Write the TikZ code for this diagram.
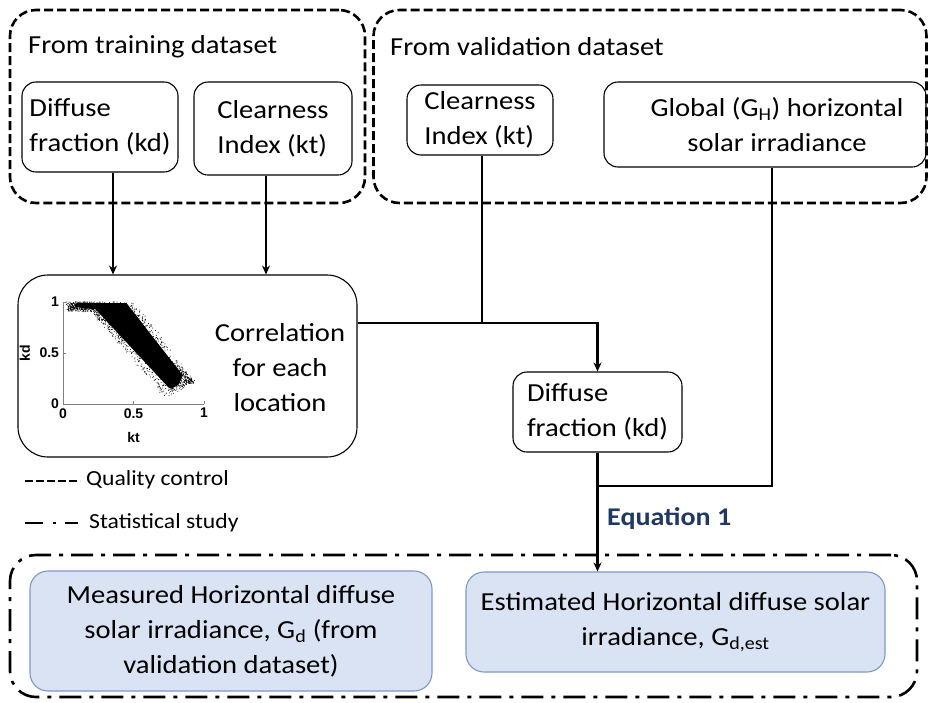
\documentclass[tikz,border=0pt]{standalone}
\usepackage{fontspec}
\setmainfont{Carlito}[FakeStretch=1.1]
\newfontfamily\plotfont{Liberation Sans}
\usetikzlibrary{arrows.meta}

\definecolor{boxfill}{HTML}{DAE3F3}
\definecolor{boxline}{HTML}{7F97C8}
\definecolor{eqblue}{HTML}{1F3864}

\begin{document}
\begin{tikzpicture}[x=1pt,y=-1pt,
  txt/.style={font=\fontsize{26}{35}\selectfont},
  inbox/.style={draw, rounded corners=14pt, line width=1.1pt, txt, inner sep=0pt},
  outbox/.style={draw=boxline, fill=boxfill, rounded corners=18pt, line width=1.1pt, txt, align=center, inner sep=0pt},
  grp/.style={draw, line width=2.6pt, rounded corners=26pt, dash pattern=on 9pt off 4pt, inner sep=0pt},
  statgrp/.style={draw, line width=2.6pt, rounded corners=26pt, dash pattern=on 22pt off 8pt on 4pt off 8pt, inner sep=0pt},
  link/.style={line width=2.6pt},
  arr/.style={link, -{Stealth[length=9pt,width=8pt]}},
  tick/.style={font=\plotfont\bfseries\fontsize{14}{14}\selectfont, inner sep=1pt}
]
\useasboundingbox (0,0) rectangle (929,702);

% Dataset groups
\node[grp, minimum width=355pt, minimum height=193pt] (train) at (187.5,106.5) {};
\node[grp, minimum width=553pt, minimum height=193pt] (valid) at (650,106.5) {};
\node[txt, anchor=west, inner sep=0pt] (traintitle) at (28,47) {From training dataset};
\node[txt, anchor=west, inner sep=0pt] (validtitle) at (390,47) {From validation dataset};

% Inputs
\node[inbox, align=left, minimum width=156pt, minimum height=90pt] (kdt) at (100,127) {Diffuse\\fraction (kd)};
\node[inbox, align=left, minimum width=158pt, minimum height=93pt] (ktt) at (273,128.5) {Clearness\\Index (kt)};
\node[inbox, align=left, minimum width=146pt, minimum height=70pt] (ktv) at (480,120) {Clearness\\Index (kt)};
\node[inbox, minimum width=322pt, minimum height=85pt] (glob) at (765,124.5) {};
\node[txt, align=center, inner sep=0pt] (globtxt) at (777,124.5) {Global (G\textsubscript{H}) horizontal\\solar irradiance};

% Correlation box with the kd-kt scatter
\node[inbox, rounded corners=30pt, minimum width=339pt, minimum height=182pt] (corr) at (187.5,366) {};
\node[txt, align=center, inner sep=0pt] (corrtxt) at (280,368) {Correlation\\for each\\location};
\begin{scope}[shift={(63,404)}, x=141pt, y=102pt]
  \draw[gray, line width=0.6pt] (0,1) -- (0,0) -- (1,0);
  \foreach \v [count=\i] in {0,0.5,1} {
    \draw[gray, line width=0.6pt] (\v,0) -- (\v,0.03);
    \draw[gray, line width=0.6pt] (0,\v) -- (0.02,\v);
    \node[tick, below] (xl\i) at (\v,-0.03) {\v};
    \node[tick, left] (yl\i) at (-0.02,\v) {\v};
  }
  \node[tick] (ktlab) at (0.5,-0.33) {kt};
  \node[tick, rotate=90] (kdlab) at (-0.27,0.5) {kd};
  % dense core of the cloud
  \fill (0.08,0.97) -- (0.1,0.99) -- (0.45,0.99) -- (0.85,0.28) -- (0.82,0.19)
    -- (0.77,0.15) -- (0.75,0.16) -- (0.23,0.93) -- (0.09,0.95) -- cycle;
  % scattered points
  \pgfmathsetseed{11}
  \foreach \i in {1,...,1600} {
    \pgfmathsetmacro{\ktv}{0.03+0.89*rnd}
    \pgfmathsetmacro{\hiv}{min(1,1-(\ktv-0.5)*1.857)}
    \pgfmathsetmacro{\lov}{\ktv<0.2 ? 0.91 : max(0.91-(\ktv-0.2)*1.596, 0.08+(\ktv-0.75)*0.82)}
    \pgfmathsetmacro{\kdv}{min(1,\lov+(\hiv-\lov)*rnd+0.015*rand)}
    \fill (\ktv+0.015*rand,\kdv) circle[radius=0.5pt];
  }
\end{scope}

% Estimated kd
\node[inbox, align=left, minimum width=169pt, minimum height=80pt] (kd2) at (597.5,412) {Diffuse\\fraction (kd)};

% Legend
\coordinate (q0) at (25,481);
\coordinate (q1) at (80,481);
\draw[link, dash pattern=on 8pt off 3pt] (q0) -- (q1);
\node[anchor=west, inner sep=0pt, font=\fontsize{21.5}{21.5}\selectfont] (qc) at (86,480) {Quality control};
\coordinate (s0) at (25,523);
\coordinate (s1) at (80,523);
\draw[link, dash pattern=on 18pt off 10pt on 3pt off 9pt on 13pt off 10pt] (s0) -- (s1);
\node[anchor=west, inner sep=0pt, font=\fontsize{21.5}{21.5}\selectfont] (sc) at (89,523) {Statistical study};

% Statistical study group
\node[statgrp, minimum width=907pt, minimum height=142pt] (stat) at (463.5,626) {};
\node[outbox, minimum width=402pt, minimum height=120pt] (meas) at (231,631) {Measured Horizontal diffuse\\solar irradiance, G\textsubscript{d} (from\\validation dataset)};
\node[outbox, minimum width=419pt, minimum height=100pt] (est) at (675.5,622) {Estimated Horizontal diffuse solar\\irradiance, G\textsubscript{d,est}};

% Connectors
\draw[arr] ([xshift=13pt]kdt.south) -- ([xshift=13pt]kdt.south |- corr.north);
\draw[arr] ([xshift=-7pt]ktt.south) -- ([xshift=-7pt]ktt.south |- corr.north);
\coordinate (jn) at (482,323);
\draw[link] (ktv.south -| jn) -- (jn);
\draw[arr] (corr.east |- jn) -- (jn) -| (kd2.north);
\coordinate (gb) at (772,486);
\draw[link] (glob.south -| gb) -- (gb) -- (gb -| kd2.south);
\draw[arr] (kd2.south) -- (kd2.south |- est.north);
\node[anchor=west, inner sep=0pt, text=eqblue, font=\bfseries\fontsize{25.5}{25.5}\selectfont] (eq) at (607,519) {Equation 1};

\end{tikzpicture}
\end{document}
